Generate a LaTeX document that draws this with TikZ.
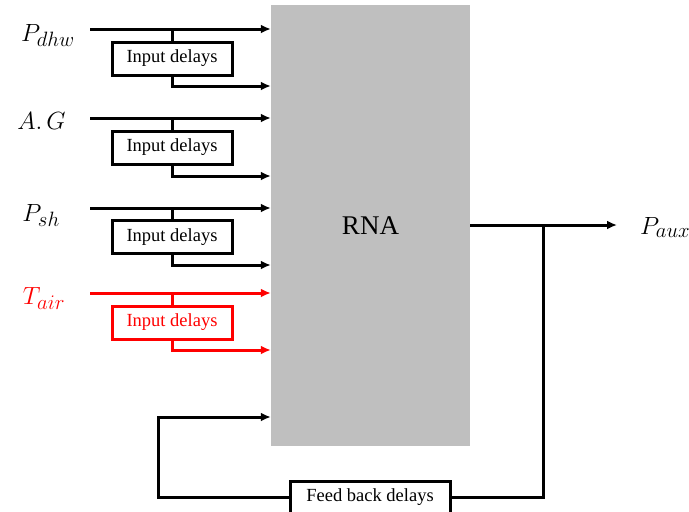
\documentclass[tikz,border=0pt]{standalone}
\usepackage{fontspec}
\setmainfont{Liberation Serif}
\usetikzlibrary{arrows.meta}

\begin{document}
\begin{tikzpicture}[
    x=1pt, y=-1pt,
    rna_block/.style={rectangle, fill=black!25, minimum width=199pt, minimum height=441pt, inner sep=0pt, font=\fontsize{27}{32}\selectfont},
    delay_box/.style={rectangle, draw, line width=3pt, fill=white, minimum width=120pt, minimum height=33pt, inner sep=0pt, font=\fontsize{18.5}{22}\selectfont},
    in_label/.style={anchor=base, inner sep=0pt, font=\fontsize{28}{32}\selectfont},
    wire/.style={line width=3pt},
    arrow/.style={-{Latex[length=10pt,width=9pt]}, line width=3pt}
]
    \useasboundingbox (0,0) rectangle (689,512);

    \node[rna_block] (rna) at (370.5,225.5) {RNA};

    % inputs
    \node[in_label] (pdhw) at (48,41) {$P_{dhw}$};
    \node[in_label] (ag) at (41.5,129) {$A.\,G$};
    \node[in_label] (psh) at (41,221) {$P_{sh}$};
    \node[in_label, text=red] (tair) at (44,304) {$T_{air}$};

    \coordinate (s1) at (90,29);
    \coordinate (s2) at (90,118);
    \coordinate (s3) at (90,208);
    \coordinate (s4) at (90,293);

    \coordinate (o1) at (172,86);
    \coordinate (o2) at (172,176);
    \coordinate (o3) at (172,265);
    \coordinate (o4) at (172,350);

    \node[delay_box] (d1) at (172,58.5) {Input delays};
    \node[delay_box] (d2) at (172,147.5) {Input delays};
    \node[delay_box] (d3) at (172,237) {Input delays};
    \node[delay_box, draw=red, text=red] (d4) at (172,322.5) {Input delays};

    \draw [arrow] (s1) -- (s1 -| rna.west);
    \draw [wire] (d1.north) -- (d1.north |- s1);
    \draw [arrow] (d1.south) |- (o1 -| rna.west);

    \draw [arrow] (s2) -- (s2 -| rna.west);
    \draw [wire] (d2.north) -- (d2.north |- s2);
    \draw [arrow] (d2.south) |- (o2 -| rna.west);

    \draw [arrow] (s3) -- (s3 -| rna.west);
    \draw [wire] (d3.north) -- (d3.north |- s3);
    \draw [arrow] (d3.south) |- (o3 -| rna.west);

    \draw [arrow, red] (s4) -- (s4 -| rna.west);
    \draw [wire, red] (d4.north) -- (d4.north |- s4);
    \draw [arrow, red] (d4.south) |- (o4 -| rna.west);

    % output and feedback
    \coordinate (out) at (617,225);
    \coordinate (jn) at (543,225);
    \coordinate (fbl) at (158,417);
    \node[in_label, anchor=base west] (paux) at (640,234) {$P_{aux}$};
    \node[delay_box] (fb) at (370,497.5) [minimum width=160pt] {Feed back delays};

    \draw [arrow] (rna.east |- out) -- (out);
    \draw [wire] (jn) |- (fb.east);
    \draw [arrow] (fb.west) -| (fbl) -- (fbl -| rna.west);

\end{tikzpicture}
\end{document}
